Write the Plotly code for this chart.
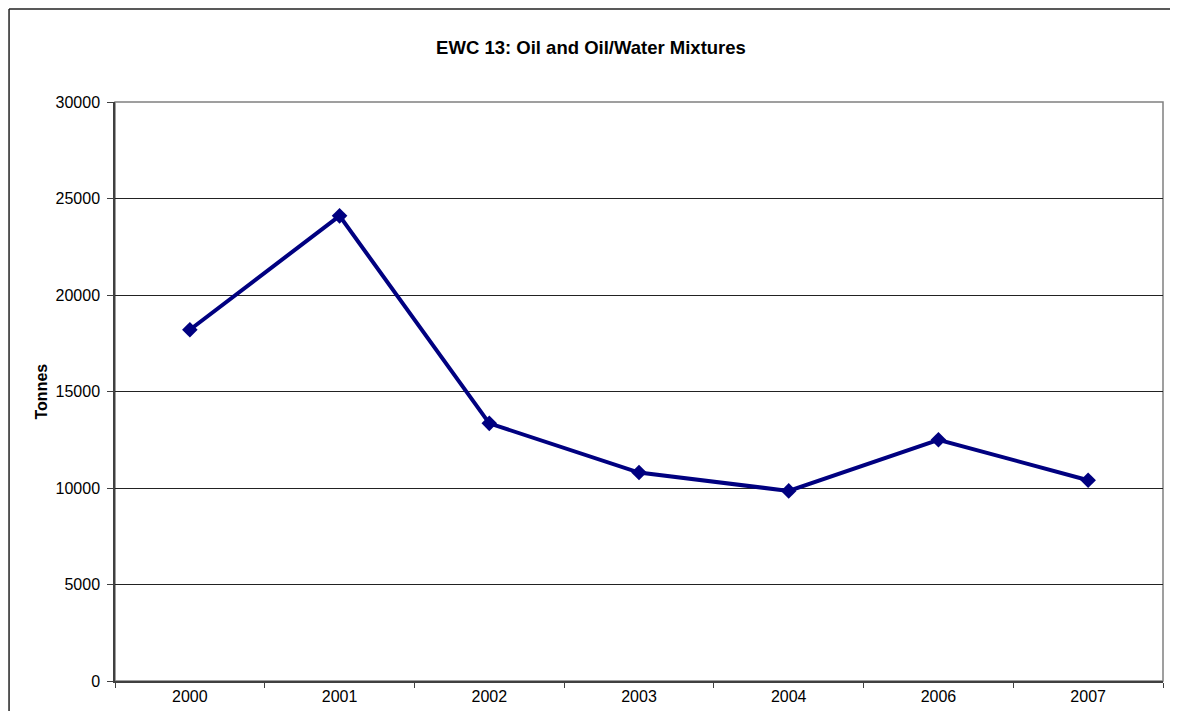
import plotly.graph_objects as go

years = ['2000', '2001', '2002', '2003', '2004', '2006', '2007']
tonnes = [18200, 24100, 13350, 10800, 9850, 12500, 10400]
y_ticks = [0, 5000, 10000, 15000, 20000, 25000, 30000]

fig = go.Figure()
fig.add_trace(go.Scatter(
    x=years, y=tonnes, mode='lines+markers',
    line=dict(color='#000080', width=4),
    marker=dict(symbol='diamond', size=12, color='#000080'),
    showlegend=False,
))

# plot area border (grey)
fig.add_shape(type='rect', xref='paper', yref='paper', x0=0, x1=1, y0=0, y1=1,
              line=dict(color='#808080', width=1.5), layer='below')
# outer chart frame: only the left and top edges are inside the picture
frame = dict(color='#222222', width=1.5)
fig.add_shape(type='line', xref='paper', yref='paper', x0=-0.1011, x1=-0.1011, y0=-0.5, y1=1.1606, line=frame)
fig.add_shape(type='line', xref='paper', yref='paper', x0=-0.1011, x1=1.3, y0=1.1606, y1=1.1606, line=frame)

# y-axis title
fig.add_annotation(text='<b>Tonnes</b>', xref='paper', yref='paper',
                   x=(41 - 115) / 1048, y=0.5, textangle=-90, showarrow=False,
                   xanchor='center', yanchor='middle', font=dict(size=16))

fig.update_layout(
    width=1178, height=711,
    margin=dict(l=107, r=23, t=94, b=38),
    paper_bgcolor='white', plot_bgcolor='white',
    font=dict(family='Liberation Sans, Arial', size=16, color='black'),
    title=dict(text='<b>EWC 13: Oil and Oil/Water Mixtures</b>', x=0.5 - 6 / 1178, xref='container',
               y=1 - 40 / 711, yref='container', yanchor='middle', font=dict(size=18.5)),
    xaxis=dict(type='category', range=[-0.5, 6.5], tickson='boundaries',
               ticks='outside', ticklen=5, tickcolor='#404040',
               showline=True, linecolor='#404040', linewidth=1.5,
               showgrid=False, zeroline=False, tickfont=dict(size=16)),
    yaxis=dict(range=[0, 30000], tickvals=y_ticks, ticktext=[str(v) for v in y_ticks],
               ticks='outside', ticklen=6, ticklabelstandoff=4,
               tickcolor='#404040', showline=True, linecolor='#404040', linewidth=1.5,
               showgrid=True, gridcolor='#222222', gridwidth=1, zeroline=False,
               tickfont=dict(size=16)),
)

fig.write_html("out.html")
